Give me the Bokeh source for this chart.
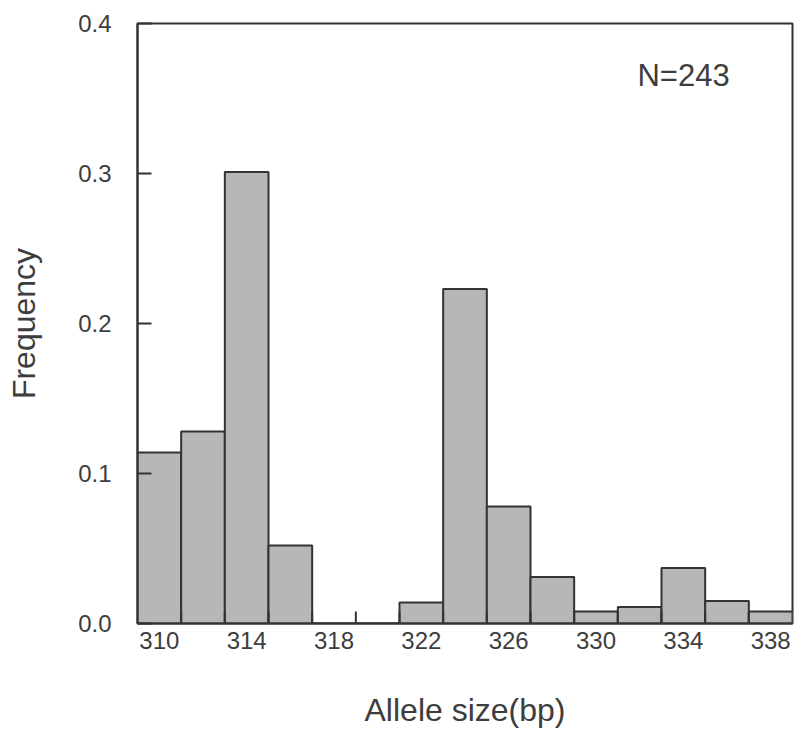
from bokeh.plotting import figure
from bokeh.models import Range1d, FixedTicker, NumeralTickFormatter, Label
from bokeh.embed import file_html
from bokeh.resources import INLINE

# Data
allele_sizes = [310, 312, 314, 316, 318, 320, 322, 324, 326, 328, 330, 332, 334, 336, 338]
frequency = [0.114, 0.128, 0.301, 0.052, 0.0, 0.0, 0.014, 0.223, 0.078, 0.031, 0.008, 0.011, 0.037, 0.015, 0.008]
x_tick_labels = [310, 314, 318, 322, 326, 330, 334, 338]
y_ticks = [0.0, 0.1, 0.2, 0.3, 0.4]
sample_note = "N=243"
bin_width = 2

FONT = "Liberation Sans"
TXT = "#3d3d3d"
LINE = "#333333"

p = figure(width=795, height=751, output_backend="svg", toolbar_location=None,
           x_range=Range1d(allele_sizes[0] - bin_width / 2, allele_sizes[-1] + bin_width / 2),
           y_range=Range1d(y_ticks[0], y_ticks[-1]),
           min_border_left=137, min_border_right=3, min_border_top=23, min_border_bottom=128)

p.background_fill_color = "white"
p.border_fill_color = "white"
p.grid.visible = False
p.outline_line_color = LINE
p.outline_line_width = 2

p.vbar(x=allele_sizes, width=bin_width, top=frequency, bottom=0,
       fill_color="#b7b7b7", line_color=LINE, line_width=2)

# tick marks at bin edges (drawn inside the frame)
edges = [c + bin_width / 2 for c in allele_sizes[:-1]]
tick_len = 0.008
p.segment(x0=edges, y0=[0] * len(edges), x1=edges, y1=[tick_len] * len(edges),
          line_color=LINE, line_width=2)

# x axis
xa = p.xaxis[0]
xa.ticker = FixedTicker(ticks=x_tick_labels)
xa.major_tick_line_alpha = 0
xa.minor_tick_line_alpha = 0
xa.major_tick_in = 0
xa.major_tick_out = 0
xa.major_label_standoff = 8
xa.axis_line_color = LINE
xa.axis_line_width = 2
xa.axis_label = "Allele size(bp)"
xa.axis_label_standoff = 40

# y axis
ya = p.yaxis[0]
ya.ticker = FixedTicker(ticks=y_ticks)
ya.formatter = NumeralTickFormatter(format="0.0")
ya.major_tick_in = 14
ya.major_tick_out = 0
ya.minor_tick_line_alpha = 0
ya.major_tick_line_color = LINE
ya.major_tick_line_width = 2
ya.major_label_standoff = 26
ya.axis_line_color = LINE
ya.axis_line_width = 2
ya.axis_label = "Frequency"
ya.axis_label_standoff = 33

for ax in (xa, ya):
    ax.major_label_text_font = FONT
    ax.major_label_text_font_size = "24px"
    ax.major_label_text_color = TXT
    ax.axis_label_text_font = FONT
    ax.axis_label_text_font_size = "32px"
    ax.axis_label_text_font_style = "normal"
    ax.axis_label_text_color = TXT

p.add_layout(Label(x=331.9, y=0.377, text=sample_note, text_font=FONT,
                   text_font_size="31px", text_color=TXT,
                   text_align="left", text_baseline="top"))

open("out.html", "w").write(file_html(p, INLINE))
